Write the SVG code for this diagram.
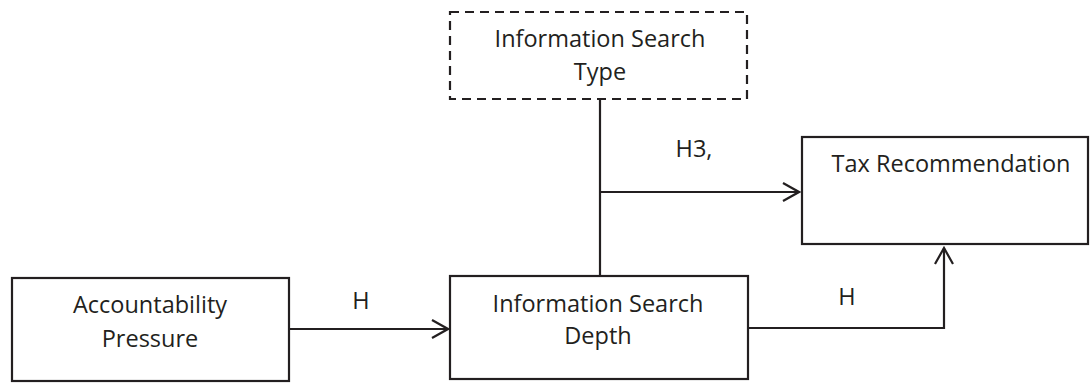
<svg xmlns="http://www.w3.org/2000/svg" width="1091" height="383" viewBox="0 0 1091 383">
<defs>
<style>
.box{fill:#fff;stroke:#231f20;stroke-width:2.2}
.dash{stroke-dasharray:9 6}
.t{font-family:"Open Sans","Liberation Sans",sans-serif;font-size:23.5px;fill:#231f20;text-anchor:middle}
.ln{fill:none;stroke:#231f20;stroke-width:2.2}
</style>
<marker id="arr" viewBox="0 0 20 20" refX="18" refY="10" markerWidth="20" markerHeight="20" markerUnits="userSpaceOnUse" orient="auto">
<path d="M2,1 L18,10 L2,19" fill="none" stroke="#231f20" stroke-width="2.2"/>
</marker>
</defs>
<rect width="1091" height="383" fill="#fff"/>
<g id="connectors">
<line class="ln" x1="600" y1="99" x2="600" y2="276"/>
<line class="ln" x1="600" y1="192" x2="799" y2="192" marker-end="url(#arr)"/>
<line class="ln" x1="289" y1="329" x2="448" y2="329" marker-end="url(#arr)"/>
<polyline class="ln" points="748,328 944,328 944,248" marker-end="url(#arr)"/>
<text class="t" x="694" y="157">H3,</text>
<text class="t" x="361" y="309">H</text>
<text class="t" x="847" y="305">H</text>
</g>
<g id="node-type">
<rect class="box dash" x="450" y="12" width="297" height="87"/>
<text class="t" x="600" y="47">Information Search</text>
<text class="t" x="600" y="80">Type</text>
</g>
<g id="node-tax">
<rect class="box" x="802" y="137" width="286" height="107"/>
<text class="t" x="951" y="172">Tax Recommendation</text>
</g>
<g id="node-accountability">
<rect class="box" x="12" y="278" width="277" height="103"/>
<text class="t" x="150" y="313">Accountability</text>
<text class="t" x="150" y="347">Pressure</text>
</g>
<g id="node-depth">
<rect class="box" x="450" y="276" width="298" height="103"/>
<text class="t" x="598" y="312">Information Search</text>
<text class="t" x="598" y="344">Depth</text>
</g>
</svg>
